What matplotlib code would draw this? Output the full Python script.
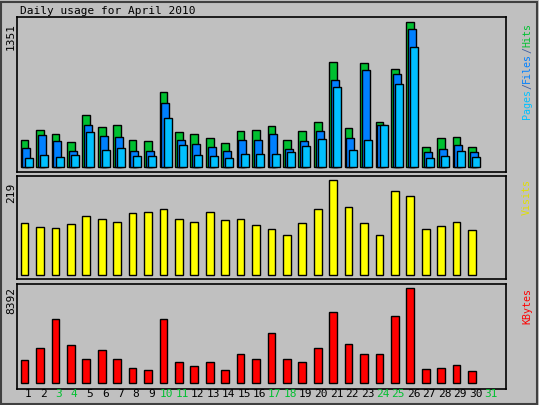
import matplotlib
matplotlib.use("Agg")
import matplotlib.pyplot as plt
from matplotlib.patches import Rectangle

days = list(range(1, 32))
weekend = [3, 4, 10, 11, 17, 18, 24, 25, 31]

hits = [252, 345, 307, 233, 485, 373, 391, 252, 242, 699, 326, 307, 270, 224, 335,
        345, 382, 252, 335, 419, 978, 363, 969, 419, 913, 1351, 186, 270, 280, 186]
files = [177, 298, 242, 149, 391, 289, 280, 149, 149, 596, 252, 214, 186, 149, 252,
         252, 307, 168, 242, 335, 811, 270, 904, 391, 867, 1286, 140, 168, 205, 140]
pages = [84, 112, 93, 112, 326, 158, 177, 102, 102, 457, 205, 112, 102, 84, 121,
         121, 121, 140, 196, 261, 745, 158, 252, 391, 773, 1118, 84, 102, 149, 93]
visits = [120, 111, 108, 118, 136, 129, 122, 143, 145, 152, 131, 124, 145, 127, 129,
          115, 106, 94, 120, 152, 219, 157, 120, 92, 194, 184, 106, 113, 122, 104]
kbytes = [2032, 3092, 5654, 3357, 2120, 2915, 2120, 1325, 1148, 5654, 1855, 1502, 1855,
          1148, 2562, 2120, 4417, 2120, 1855, 3092, 6272, 3445, 2562, 2562, 5919, 8392,
          1237, 1325, 1590, 1060]

W, H = 539, 405
BG = "#C0C0C0"
MONO = "DejaVu Sans Mono"
GREEN, BLUE, CYAN = "#00C030", "#0080FF", "#00C0FF"

fig = plt.figure(figsize=(W / 100, H / 100), dpi=100)
fig.patch.set_facecolor(BG)
fig.patches.append(Rectangle((1 / W, 1 / H), 1 - 3 / W, 1 - 3 / H, transform=fig.transFigure,
                             fill=False, edgecolor="#404040", lw=1.5))

def panel(top, bottom):
    ax = fig.add_axes([17 / W, 1 - bottom / H, (506 - 17) / W, (bottom - top) / H])
    ax.set_facecolor(BG)
    ax.set_xlim(17, 506)
    ax.set_xticks([])
    ax.set_yticks([])
    for s in ax.spines.values():
        s.set_linewidth(1.2)
    return ax

def xpos(d):
    return 28 + 15.43 * (d - 1) - 7.3

def vtext(x, ybot, parts, size=7.2):
    # parts: list of (text, color), stacked bottom to top
    y = ybot
    for t, c in parts:
        fig.text(x / W, 1 - y / H, t, rotation=90, color=c, fontsize=size,
                 family=MONO, ha="center", va="bottom")
        y -= 6.0 * len(t)

n = len(hits)
ax1 = panel(17, 172)
ax1.set_ylim(-44, 1400)
for i in range(n):
    x = xpos(days[i])
    ax1.bar(x, hits[i], width=7.7, align="edge", color=GREEN, edgecolor="black", lw=1)
    ax1.bar(x + 1.7, files[i], width=8, align="edge", color=BLUE, edgecolor="black", lw=1)
    ax1.bar(x + 4, pages[i], width=8, align="edge", color=CYAN, edgecolor="black", lw=1)

ax2 = panel(176, 279)
ax2.set_ylim(-8.5, 229)
ax2.bar([xpos(d) for d in days[:n]], visits, width=7.7, align="edge",
        color="#FFFF00", edgecolor="black", lw=1)

ax3 = panel(284, 389)
ax3.set_ylim(-503, 8772)
ax3.bar([xpos(d) for d in days[:n]], kbytes, width=7.7, align="edge",
        color="#FF0000", edgecolor="black", lw=1)

fig.text(20 / W, 1 - 11 / H, "Daily usage for April 2010", family=MONO, fontsize=8,
         va="center", ha="left")
fig.text(11 / W, 1 - 37 / H, "1351", rotation=90, family=MONO, fontsize=8, ha="center", va="center")
fig.text(11 / W, 1 - 193 / H, "219", rotation=90, family=MONO, fontsize=8, ha="center", va="center")
fig.text(11 / W, 1 - 300 / H, "8392", rotation=90, family=MONO, fontsize=8, ha="center", va="center")

vtext(527, 119, [("Pages", CYAN), ("/", "#4060A0"), ("Files", BLUE), ("/", "#4060A0"), ("Hits", GREEN)])
vtext(527, 215, [("Visits", "#E0E000")])
vtext(527, 324, [("KBytes", "#FF0000")])

for d in days:
    fig.text((28 + 15.43 * (d - 1)) / W, 1 - 394 / H, str(d), family=MONO, fontsize=8,
             ha="center", va="center", color=GREEN if d in weekend else "black")

fig.savefig("out.png", dpi=100, facecolor=BG)
